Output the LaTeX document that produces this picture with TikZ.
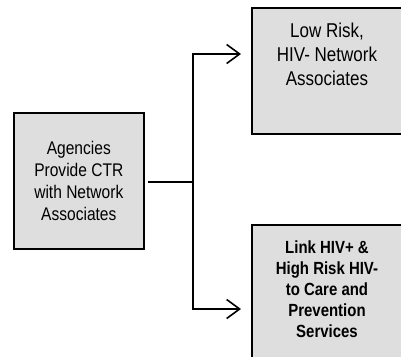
\documentclass[tikz,border=0pt]{standalone}
\usepackage{fontspec}
\setmainfont[FakeStretch=0.85]{Liberation Sans}
\usetikzlibrary{arrows.meta}
\definecolor{boxfill}{RGB}{222,222,222}
\tikzset{
  box/.style={draw=black, line width=1.6pt, fill=boxfill, inner sep=0pt, anchor=north west},
  txt/.style={align=center, inner sep=0pt},
  conn/.style={line width=1.6pt},
  arr/.style={conn, -{Straight Barb[length=13pt,width=19pt,line width=1.6pt]}},
}
\begin{document}
\begin{tikzpicture}[x=1pt,y=-1pt]
\useasboundingbox (0,0) rectangle (401,356);
% boxes
\node[box, minimum width=130, minimum height=136] (agency) at (13,112) {};
\node[box, minimum width=154, minimum height=126] (low) at (251,7) {};
\node[box, minimum width=154, minimum height=140] (link) at (251,224) {};
% texts
\node[txt, font=\fontsize{18.3}{21.9}\selectfont] (agencytxt) at (agency.center)
  {Agencies\\Provide CTR\\with Network\\Associates};
\node[txt, anchor=north, font=\fontsize{20}{23.8}\selectfont] (lowtxt) at (327,23)
  {Low Risk,\\HIV- Network\\Associates};
\node[txt, anchor=north, font=\bfseries\fontsize{17.6}{21}\selectfont] (linktxt) at (327,241)
  {Link HIV+ \&\\High Risk HIV-\\to Care and\\Prevention\\Services};
% connectors
\coordinate (start) at (148,182);
\coordinate (junc) at (193,182);
\coordinate (up) at (193,54);
\coordinate (down) at (193,309);
\coordinate (uptip) at (241,54);
\coordinate (downtip) at (241,309);
\draw[conn] (start) -- (junc);
\draw[arr] (junc) -- (up) -- (uptip);
\draw[arr] (junc) -- (down) -- (downtip);
\end{tikzpicture}
\end{document}
